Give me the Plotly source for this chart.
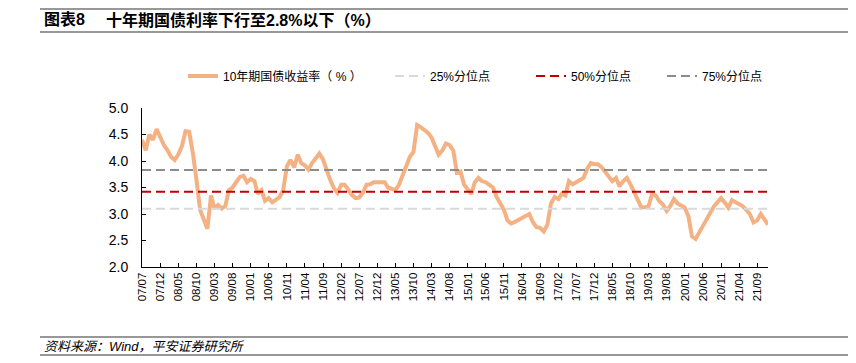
import plotly.graph_objects as go
import pandas as pd

# Monthly 10Y CGB yield (%), Jul 2007 - Dec 2021
y2007 = [4.40, 4.20, 4.50, 4.40, 4.60, 4.45]
y2008 = [4.30, 4.20, 4.08, 4.02, 4.12, 4.28, 4.56, 4.55, 4.15, 3.65, 3.08, 2.90]
y2009 = [2.72, 3.35, 3.10, 3.17, 3.10, 3.15, 3.45, 3.50, 3.60, 3.70, 3.72, 3.60]
y2010 = [3.66, 3.62, 3.38, 3.45, 3.25, 3.30, 3.22, 3.28, 3.32, 3.45, 3.90, 4.02]
y2011 = [3.88, 4.12, 3.96, 3.92, 3.84, 3.96, 4.05, 4.14, 4.03, 3.82, 3.64, 3.49]
y2012 = [3.40, 3.55, 3.55, 3.46, 3.36, 3.30, 3.31, 3.40, 3.55, 3.56, 3.60, 3.60]
y2013 = [3.60, 3.60, 3.50, 3.48, 3.45, 3.55, 3.74, 3.92, 4.08, 4.17, 4.68, 4.64]
y2014 = [4.58, 4.53, 4.45, 4.30, 4.12, 4.20, 4.33, 4.30, 4.20, 3.78, 3.80, 3.55]
y2015 = [3.45, 3.38, 3.60, 3.68, 3.62, 3.60, 3.55, 3.50, 3.32, 3.20, 3.08, 2.88]
y2016 = [2.82, 2.85, 2.88, 2.92, 2.96, 3.00, 2.85, 2.75, 2.74, 2.67, 2.80, 3.20]
y2017 = [3.32, 3.28, 3.38, 3.35, 3.62, 3.56, 3.60, 3.64, 3.68, 3.85, 3.96, 3.94]
y2018 = [3.94, 3.88, 3.80, 3.72, 3.62, 3.68, 3.52, 3.62, 3.68, 3.56, 3.42, 3.25]
y2019 = [3.12, 3.13, 3.14, 3.38, 3.35, 3.24, 3.18, 3.06, 3.15, 3.28, 3.20, 3.16]
y2020 = [3.12, 2.95, 2.58, 2.53, 2.65, 2.80, 2.92, 3.05, 3.14, 3.22, 3.30, 3.22]
y2021 = [3.12, 3.26, 3.22, 3.19, 3.15, 3.08, 3.00, 2.84, 2.88, 3.00, 2.88, 2.80]

yields = (y2007 + y2008 + y2009 + y2010 + y2011 + y2012 + y2013 + y2014 +
          y2015 + y2016 + y2017 + y2018 + y2019 + y2020 + y2021)
dates = pd.date_range("2007-07-01", periods=len(yields), freq="MS")

# Quantile levels
q_names = ["25%分位点", "50%分位点", "75%分位点"]
q_values = [3.10, 3.42, 3.83]
q_colors = ["#D9D9D9", "#C00000", "#8C8C8C"]

series_name = "10年期国债收益率（ % ）"
title_no = "<b>图表8</b>"
title_text = "<b>十年期国债利率下行至2.8%以下（%）</b>"
source_text = "<i>资料来源：Wind，平安证券研究所</i>"

FONT = "Liberation Sans, Arial, Noto Sans CJK SC, sans-serif"

# page body margin offset (screen px)
OFF = 8
W, H = 856, 363
# plot area in screen coordinates
SL, SR, ST, SB = 142, 768, 108, 267
L, R, T, B = SL - OFF, SR - OFF, ST - OFF, SB - OFF
pw, ph = R - L, B - T


def px_x(sx):
    return (sx - OFF - L) / pw


def px_y(sy):
    return (B - (sy - OFF)) / ph


fig = go.Figure()
fig.add_trace(go.Scatter(
    x=dates, y=yields, mode="lines", name=series_name,
    line=dict(color="#F4B183", width=4), legend="legend",
))
x_ends = [dates[0], dates[-1]]
legend_ids = ["legend2", "legend3", "legend4"]
for n, v, c, lg in zip(q_names, q_values, q_colors, legend_ids):
    fig.add_trace(go.Scatter(
        x=x_ends, y=[v, v], mode="lines", name=n,
        line=dict(color=c, width=2, dash="9px,5px"), legend=lg,
    ))

shapes = []
for yy in [9, 32, 337, 355]:
    shapes.append(dict(type="line", xref="paper", yref="paper",
                       x0=px_x(40), x1=px_x(849), y0=px_y(yy), y1=px_y(yy),
                       line=dict(color="#333333", width=1.2)))


def leg(text_start_sx):
    return dict(orientation="h", x=px_x(text_start_sx - 41), y=px_y(76),
                xanchor="left", yanchor="middle",
                font=dict(size=12, family=FONT, color="#000000"),
                bgcolor="rgba(0,0,0,0)")


fig.update_layout(
    width=W, height=H,
    margin=dict(l=L, r=W - R, t=T, b=H - B),
    paper_bgcolor="white", plot_bgcolor="white",
    font=dict(family=FONT, color="#000000", size=12),
    showlegend=True,
    legend=leg(224), legend2=leg(431), legend3=leg(572), legend4=leg(703),
    shapes=shapes,
    annotations=[
        dict(text=title_no, xref="paper", yref="paper", x=px_x(42), y=px_y(20),
             xanchor="left", yanchor="middle", showarrow=False,
             font=dict(size=16, family=FONT, color="#000000")),
        dict(text=title_text, xref="paper", yref="paper", x=px_x(104), y=px_y(20),
             xanchor="left", yanchor="middle", showarrow=False,
             font=dict(size=16, family=FONT, color="#000000")),
        dict(text=source_text, xref="paper", yref="paper", x=px_x(42), y=px_y(346),
             xanchor="left", yanchor="middle", showarrow=False,
             font=dict(size=13, family=FONT, color="#000000")),
    ],
    xaxis=dict(
        type="date", range=[dates[0], dates[-1]],
        tick0="2007-07-01", dtick="M5", tickformat="%y/%m",
        tickangle=-90, ticks="inside", ticklen=4, tickcolor="#000000",
        showline=True, linecolor="#000000", linewidth=1,
        showgrid=False, zeroline=False,
        tickfont=dict(size=11.5, family=FONT),
    ),
    yaxis=dict(
        range=[2.0, 5.0], dtick=0.5, tickformat=".1f",
        ticks="inside", ticklen=4, tickcolor="#000000",
        showline=True, linecolor="#000000", linewidth=1,
        showgrid=False, zeroline=False,
        tickfont=dict(size=14, family=FONT),
        ticklabelstandoff=10,
    ),
)

fig.write_html("out.html")
